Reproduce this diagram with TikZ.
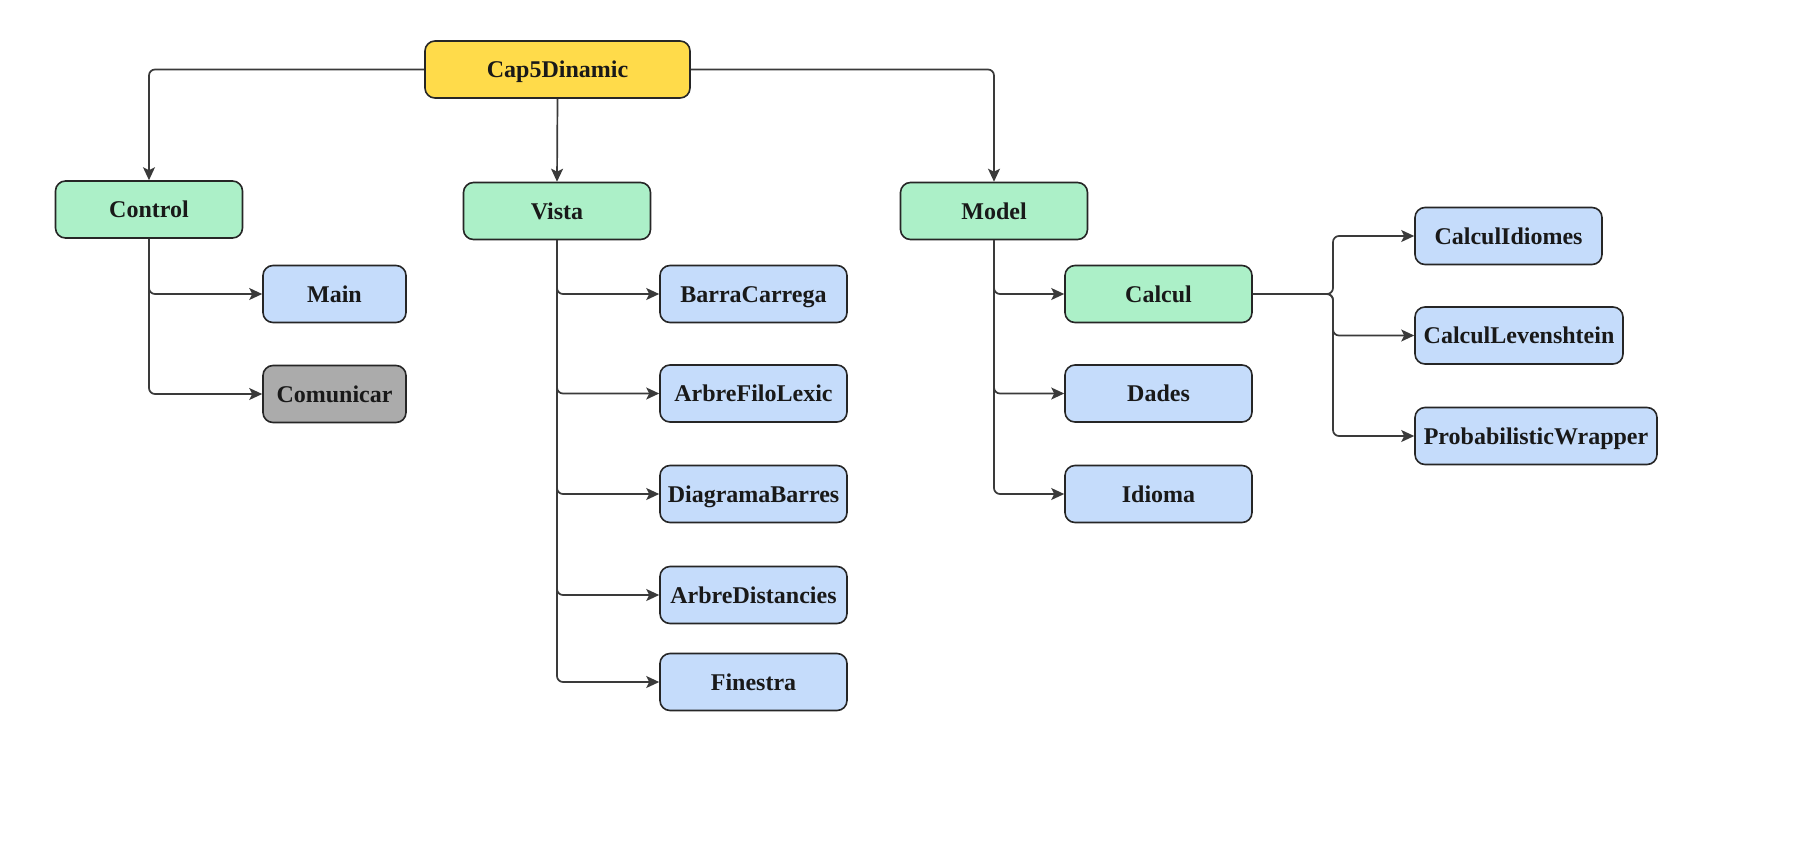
\documentclass[tikz,border=0pt]{standalone}
\usepackage{fontspec}
\setmainfont{Liberation Serif}
\usetikzlibrary{arrows.meta}
\definecolor{rootfill}{HTML}{FFDB4A}
\definecolor{pkgfill}{HTML}{ACF0C8}
\definecolor{clsfill}{HTML}{C5DCFB}
\definecolor{extfill}{HTML}{ABABAB}
\definecolor{edge}{HTML}{262626}
\definecolor{wire}{HTML}{3A3A3A}
\begin{document}
\begin{tikzpicture}[x=1pt,y=-1pt,
  box/.style={draw=edge, line width=1.6pt, rounded corners=10pt,
    minimum width=#1, minimum height=57pt, inner sep=0pt,
    text height=16pt, text depth=0pt,
    font=\fontsize{24}{27}\selectfont\bfseries, text=black!90},
  box/.default=187pt,
  rootbox/.style={box=265pt, fill=rootfill},
  pkgbox/.style={box=187pt, fill=pkgfill},
  clsbox/.style={box=#1, fill=clsfill},
  clsbox/.default=187pt,
  extbox/.style={box=#1, fill=extfill},
  conn/.style={draw=wire, line width=1.7pt, rounded corners=6pt,
    -{Stealth[length=13pt,width=12pt,inset=3pt]}}
]
\useasboundingbox (0,0) rectangle (1815,860);

% root package
\node[rootbox] (root) at (557.5,69.5) {Cap5Dinamic};

% top-level packages
\node[pkgbox] (control) at (149,209.5) {Control};
\node[pkgbox] (vista) at (557,211) {Vista};
\node[pkgbox] (model) at (994,211) {Model};

% Control contents
\node[clsbox=143pt] (main) at (334.5,294) {Main};
\node[extbox=143pt] (comunicar) at (334.5,394) {Comunicar};

% Vista contents
\node[clsbox] (barra) at (753.5,294) {BarraCarrega};
\node[clsbox] (arbrefilo) at (753.5,393.5) {ArbreFiloLexic};
\node[clsbox] (diagrama) at (753.5,494) {DiagramaBarres};
\node[clsbox] (arbredist) at (753.5,595) {ArbreDistancies};
\node[clsbox] (finestra) at (753.5,682) {Finestra};

% Model contents
\node[pkgbox] (calcul) at (1158.5,294) {Calcul};
\node[clsbox] (dades) at (1158.5,393.5) {Dades};
\node[clsbox] (idioma) at (1158.5,494) {Idioma};

% Calcul contents
\node[clsbox=187pt] (cidiomes) at (1508.5,236) {CalculIdiomes};
\node[clsbox=208pt] (clev) at (1519,335.5) {CalculLevenshtein};
\node[clsbox=242pt] (prob) at (1536,436) {ProbabilisticWrapper};

% root to packages
\draw[conn] (root.west) -| (control.north);
\draw[conn] (root.south) -- (vista.north);
\draw[conn] (root.east) -| (model.north);

% Control branch
\draw[conn] (control.south) |- (main.west);
\draw[conn] (control.south) |- (comunicar.west);

% Vista branch
\foreach \c in {barra,arbrefilo,diagrama,arbredist,finestra}
  \draw[conn] (vista.south) |- (\c.west);

% Model branch
\foreach \c in {calcul,dades,idioma}
  \draw[conn] (model.south) |- (\c.west);

% Calcul branch
\coordinate (split) at (1333,294);
\foreach \c in {cidiomes,clev,prob}
  \draw[conn] (calcul.east) -- (split) |- (\c.west);
\end{tikzpicture}
\end{document}
